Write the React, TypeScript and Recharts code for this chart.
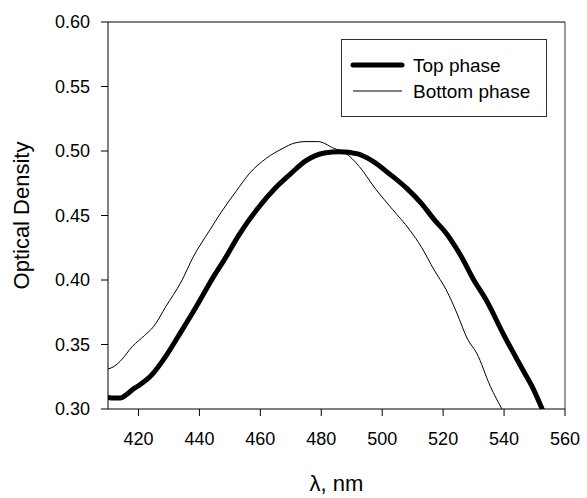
import React from 'react';
import { LineChart, Line, XAxis, YAxis, ReferenceLine, Legend } from 'recharts';

// wavelength (nm) / optical density
const topPhaseX = [410, 412, 414, 416, 418, 420, 424, 429, 434, 439, 445, 448, 453, 459, 465, 470, 475, 481, 486, 492, 497, 502, 508, 513, 517, 521, 526, 530, 534, 540, 546, 549.5, 552.5];
const topPhaseY = [0.309, 0.3085, 0.3085, 0.311, 0.315, 0.318, 0.3255, 0.341, 0.36, 0.3795, 0.404, 0.415, 0.435, 0.455, 0.4715, 0.4825, 0.4925, 0.4985, 0.4995, 0.4978, 0.492, 0.483, 0.4712, 0.459, 0.447, 0.4363, 0.418, 0.4002, 0.385, 0.357, 0.331, 0.316, 0.3];

const bottomPhaseX = [410, 412, 414, 418, 422, 425, 429, 434, 438, 443.5, 447, 452, 456.5, 462, 467.5, 471, 475, 479, 484, 488, 492.5, 498, 503.5, 509, 513, 517, 521, 524.5, 528, 531, 535.5, 539.3];
const bottomPhaseY = [0.331, 0.333, 0.337, 0.3485, 0.357, 0.364, 0.3795, 0.3985, 0.418, 0.439, 0.452, 0.4686, 0.4828, 0.4944, 0.5022, 0.506, 0.5073, 0.5073, 0.5022, 0.4983, 0.4879, 0.47, 0.4544, 0.4389, 0.425, 0.4079, 0.3924, 0.3744, 0.3542, 0.3434, 0.3175, 0.3];

const xTicks = [420, 440, 460, 480, 500, 520, 540, 560];
const yTicks = [0.3, 0.35, 0.4, 0.45, 0.5, 0.55, 0.6];

const seriesNames = ['Top phase', 'Bottom phase'];

const topData = topPhaseX.map((x, i) => ({ x, y: topPhaseY[i] }));
const bottomData = bottomPhaseX.map((x, i) => ({ x, y: bottomPhaseY[i] }));

const FONT = '"Liberation Sans", Arial, sans-serif';
const tickStyle = { fill: '#000', fontSize: 18, fontFamily: FONT };

const renderLegend = () => (
  <div
    style={{
      position: 'relative',
      width: 206,
      height: 78,
      boxSizing: 'border-box',
      border: '1px solid #333',
      background: '#fff',
      fontFamily: FONT,
      fontSize: 19,
      color: '#000',
    }}
  >
    <svg width={206} height={78} style={{ position: 'absolute', left: -1, top: -1 }}>
      <line x1={12} x2={61} y1={26} y2={26} stroke="#000" strokeWidth={5} strokeLinecap="round" />
      <line x1={12} x2={61} y1={52} y2={52} stroke="#000" strokeWidth={1} />
    </svg>
    <span style={{ position: 'absolute', left: 71, top: 15, lineHeight: 'normal', whiteSpace: 'nowrap' }}>{seriesNames[0]}</span>
    <span style={{ position: 'absolute', left: 71, top: 41, lineHeight: 'normal', whiteSpace: 'nowrap' }}>{seriesNames[1]}</span>
  </div>
);

export default function App() {
  return (
    <div style={{ position: 'absolute', left: 0, top: 0, width: 587, height: 498, background: '#fff', fontFamily: FONT }}>
      <LineChart width={587} height={498} margin={{ top: 22, right: 22, bottom: 0, left: 0 }}>
        <XAxis
          dataKey="x"
          type="number"
          domain={[410, 560]}
          ticks={xTicks}
          allowDataOverflow
          height={89}
          tickSize={7}
          tickMargin={16}
          tick={tickStyle}
          stroke="#000"
          label={{ value: 'λ, nm', position: 'insideBottom', offset: 7, fill: '#000', fontSize: 22, fontFamily: FONT }}
        />
        <YAxis
          type="number"
          domain={[0.3, 0.6]}
          ticks={yTicks}
          allowDataOverflow
          width={108}
          tickSize={7}
          tickMargin={11}
          tick={tickStyle}
          tickFormatter={(v: number) => v.toFixed(2)}
          stroke="#000"
          label={{ value: 'Optical Density', angle: -90, position: 'insideLeft', offset: 21, fill: '#000', fontSize: 22, fontFamily: FONT, style: { textAnchor: 'middle' } }}
        />
        <ReferenceLine y={0.6} stroke="#000" strokeWidth={1} />
        <ReferenceLine x={560} stroke="#333" strokeWidth={1} />
        <Line
          data={bottomData}
          dataKey="y"
          name={seriesNames[1]}
          type="monotone"
          stroke="#000"
          strokeWidth={1}
          dot={false}
          isAnimationActive={false}
        />
        <Line
          data={topData}
          dataKey="y"
          name={seriesNames[0]}
          type="monotone"
          stroke="#000"
          strokeWidth={5}
          strokeLinecap="round"
          strokeLinejoin="round"
          dot={false}
          isAnimationActive={false}
        />
        <Legend
          layout="vertical"
          align="center"
          verticalAlign="middle"
          content={renderLegend}
          wrapperStyle={{ left: 341, top: 39, width: 206, height: 78 }}
        />
      </LineChart>
    </div>
  );
}
